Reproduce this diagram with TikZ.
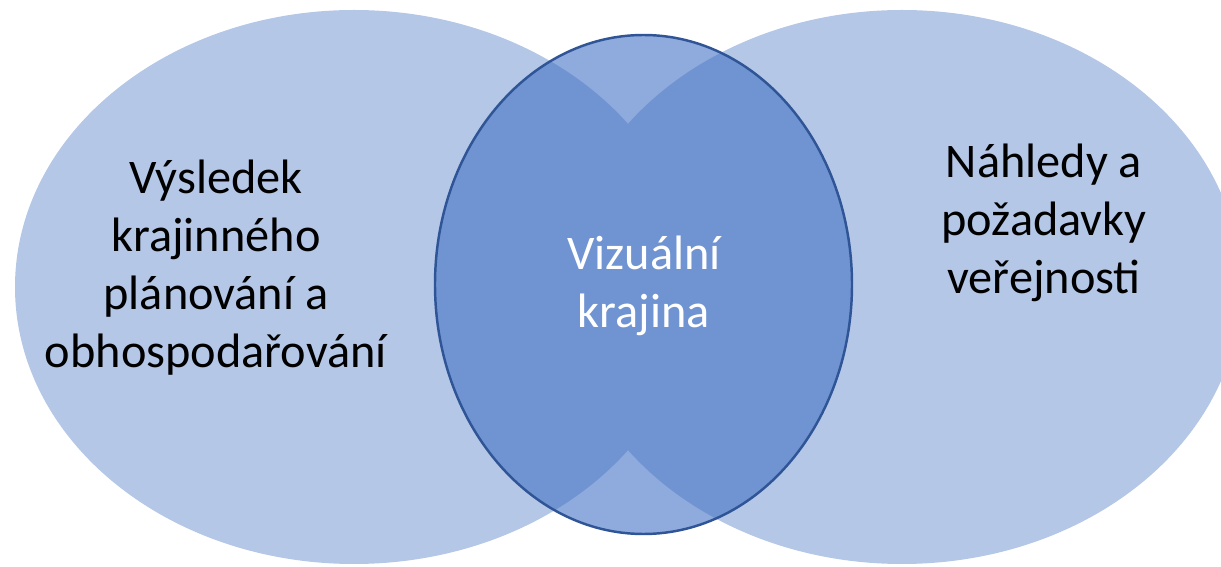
\documentclass[tikz,border=0pt]{standalone}
\usepackage{fontspec}
\setmainfont{Carlito}
\usetikzlibrary{positioning}
\definecolor{bigblue}{HTML}{B4C7E7}
\definecolor{midblue}{HTML}{4472C4}
\definecolor{edgeblue}{HTML}{2F5597}

\begin{document}
\begin{tikzpicture}[x=0.02cm,y=-0.02cm,
    label/.style={align=center,font=\fontsize{27.5}{33}\selectfont,inner sep=0pt}]
    \clip (0,0) rectangle (1221,567);
    % the two outer ovals
    \fill[bigblue] (354,287) ellipse [x radius=339, y radius=277];
    \fill[bigblue] (902,287) ellipse [x radius=339, y radius=277];
    % the middle oval
    \filldraw[fill=midblue, fill opacity=0.6, draw=edgeblue, line width=1.4pt]
        (643.5,284.5) ellipse [x radius=208.5, y radius=249.5];

    \node[label] (plan) at (216,268) {Výsledek\\krajinného\\plánování a\\obhospodařování};
    \node[label] (public) at (1044,223) {Náhledy a\\požadavky\\veřejnosti};
    \node[label,text=white] (view) at (644,286) {Vizuální\\krajina};
\end{tikzpicture}
\end{document}
